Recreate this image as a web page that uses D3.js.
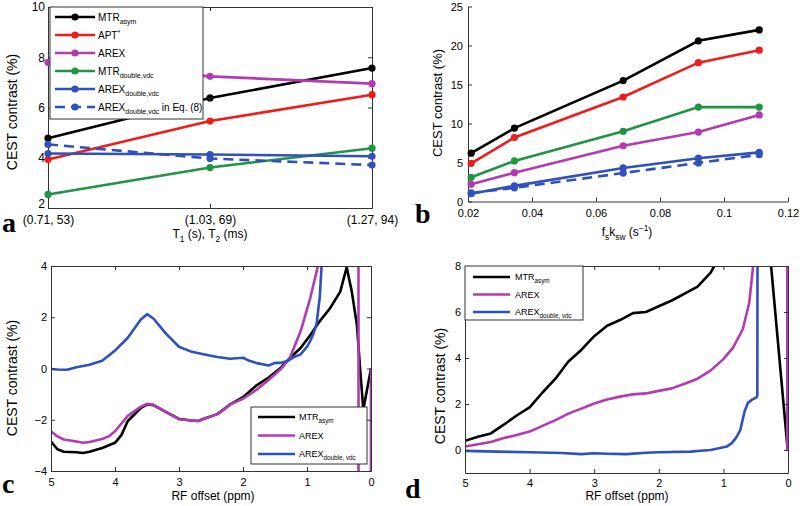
<!DOCTYPE html>
<html>
<head>
<meta charset="utf-8">
<script src="https://cdn.jsdelivr.net/npm/d3@7"></script>
<style>
  body { margin: 0; background: #fff; }
  svg { display: block; }
  text { font-family: "Liberation Sans", Arial, sans-serif; fill: #000; }
</style>
</head>
<body>
<svg id="fig" width="800" height="506"></svg>
<script>
// ---------- panel a : T1/T2 dependence
const aCats = ["(0.71, 53)", "(1.03, 69)", "(1.27, 94)"];
const aMTRasym = [4.78, 6.38, 7.57];
const aAPT = [3.93, 5.46, 6.51];
const aAREX = [7.8, 7.24, 6.95];
const aMTRdbl = [2.54, 3.61, 4.38];
const aAREXdbl = [4.17, 4.13, 4.06];
const aAREXdblEq = [4.53, 3.97, 3.71];
const aYTicks = [2, 4, 6, 8, 10];

// ---------- panel b : fs*ksw dependence
const bX = [0.021, 0.0345, 0.0685, 0.092, 0.111];
const bMTRasym = [6.2, 9.4, 15.5, 20.6, 22.0];
const bAPT = [4.9, 8.2, 13.4, 17.8, 19.4];
const bMTRdbl = [3.1, 5.2, 9.0, 12.1, 12.1];
const bAREX = [2.2, 3.7, 7.15, 8.9, 11.1];
const bAREXdbl = [1.0, 2.0, 4.3, 5.55, 6.3];
const bAREXdblEq = [1.1, 1.75, 3.65, 4.95, 6.0];
const bXTicks = [0.02, 0.04, 0.06, 0.08, 0.1, 0.12];
const bYTicks = [0, 5, 10, 15, 20, 25];

// ---------- panel c : z-spectrum contrast, [offset ppm, %]
const cMTRasym = [[5,-2.85],[4.9,-3.15],[4.8,-3.25],[4.6,-3.27],[4.5,-3.3],[4.4,-3.25],[4.2,-3.1],[4.0,-2.9],
  [3.9,-2.6],[3.8,-2.05],[3.6,-1.55],[3.5,-1.4],[3.4,-1.43],[3.2,-1.7],[3.0,-1.97],[2.8,-2.03],[2.7,-2.05],
  [2.6,-1.95],[2.4,-1.78],[2.2,-1.4],[2.0,-1.12],[1.8,-0.68],[1.6,-0.35],[1.4,0.05],[1.27,0.4],[1.1,0.8],
  [0.95,1.3],[0.8,1.85],[0.64,2.35],[0.48,3.0],[0.38,3.95],[0.3,3.0],[0.22,1.7],[0.17,0.0],[0.12,-1.6],[0.0,0.0]];
const cAREX = [[5,-2.45],[4.9,-2.65],[4.8,-2.77],[4.6,-2.85],[4.5,-2.9],[4.4,-2.87],[4.2,-2.75],[4.1,-2.65],
  [4.0,-2.45],[3.8,-1.85],[3.6,-1.5],[3.5,-1.38],[3.4,-1.42],[3.2,-1.7],[3.0,-1.98],[2.8,-2.03],[2.7,-2.05],
  [2.6,-1.95],[2.4,-1.78],[2.3,-1.6],[2.2,-1.4],[2.0,-1.18],[1.8,-0.85],[1.6,-0.45],[1.4,0.0],[1.27,0.4],
  [1.1,1.45],[0.95,2.74],[0.82,4.1],[0.5,30],[0.2,30],[0.19,-30],[0.01,-30],[0.0,0.0]];
const cAREXdbl = [[5,-0.02],[4.9,-0.04],[4.75,-0.05],[4.6,0.05],[4.4,0.15],[4.2,0.3],[4.0,0.7],[3.8,1.2],
  [3.6,1.9],[3.5,2.12],[3.4,1.95],[3.2,1.35],[3.0,0.85],[2.8,0.65],[2.6,0.55],[2.4,0.45],[2.2,0.38],
  [2.0,0.42],[1.9,0.3],[1.8,0.22],[1.6,0.12],[1.5,0.22],[1.4,0.22],[1.3,0.3],[1.2,0.45],[1.1,0.55],
  [1.0,0.85],[0.95,1.07],[0.9,1.35],[0.85,1.75],[0.8,2.8],[0.77,4.1],[0.74,6]];
const cXTicks = [5, 4, 3, 2, 1, 0];
const cYTicks = [-4, -2, 0, 2, 4];

// ---------- panel d
const dMTRasym = [[5,0.4],[4.8,0.58],[4.6,0.72],[4.4,1.1],[4.2,1.5],[4.0,1.85],[3.8,2.5],[3.6,3.1],
  [3.4,3.85],[3.2,4.35],[3.0,4.95],[2.8,5.4],[2.6,5.65],[2.4,5.95],[2.2,6.0],[2.0,6.25],[1.8,6.5],
  [1.6,6.8],[1.4,7.1],[1.2,7.7],[1.12,8.1],[0.8,12],[0.39,12],[0.005,0.0]];
const dAREX = [[5,0.15],[4.8,0.25],[4.6,0.35],[4.4,0.52],[4.2,0.65],[4.0,0.8],[3.8,1.05],[3.6,1.3],
  [3.4,1.58],[3.2,1.8],[3.0,2.02],[2.8,2.2],[2.6,2.32],[2.4,2.42],[2.2,2.46],[2.0,2.57],[1.8,2.68],
  [1.6,2.88],[1.4,3.1],[1.2,3.45],[1.0,3.95],[0.85,4.45],[0.7,5.25],[0.6,6.4],[0.54,8.0],[0.5,10],
  [0.012,12],[0.01,0.0]];
const dAREXdbl = [[5,-0.04],[4.5,-0.07],[4.0,-0.1],[3.5,-0.13],[3.2,-0.18],[3.0,-0.14],[2.8,-0.16],
  [2.5,-0.18],[2.2,-0.12],[2.0,-0.1],[1.5,-0.07],[1.36,-0.03],[1.2,0.0],[1.05,0.09],[0.95,0.15],
  [0.87,0.3],[0.8,0.55],[0.74,0.85],[0.67,1.7],[0.62,2.05],[0.55,2.2],[0.49,2.28],[0.475,2.35],[0.47,12]];
const dXTicks = [5, 4, 3, 2, 1, 0];
const dYTicks = [0, 2, 4, 6, 8];

const col = {black: "#000000", red: "#f01c1c", mag: "#b23ab2", green: "#1f9442", blue: "#2f50bd"};
const svg = d3.select("#fig");

// text with sub/superscripts: parts = [[text, "sub"|"sup"|null], ...]
function rich(sel, parts, size) {
  let shift = 0;
  parts.forEach(([t, k]) => {
    const want = k === "sub" ? size * 0.35 : k === "sup" ? -size * 0.4 : 0;
    sel.append("tspan")
      .attr("dy", want - shift)
      .attr("font-size", k ? size * 0.7 : size)
      .text(t);
    shift = want;
  });
  return sel;
}

function axes(g, x, y, xt, yt, opt) {
  const [x0, x1] = x.range(), [y0, y1] = y.range();
  const style = s => {
    s.attr("font-family", null).attr("font-size", opt.fs || 11);
    s.selectAll("path, line").attr("stroke", "#333").attr("stroke-width", 1);
  };
  g.append("g").attr("transform", `translate(0,${y0})`)
    .call(d3.axisBottom(x).tickValues(xt).tickSizeInner(-4).tickSizeOuter(0).tickPadding(opt.px || 6)
      .tickFormat(opt.xf || (d => d)))
    .call(style);
  const ya = g.append("g").attr("transform", `translate(${x0},0)`)
    .call(d3.axisLeft(y).tickValues(yt).tickSizeInner(-4).tickSizeOuter(0).tickPadding(opt.py || 4))
    .call(style);
  // lowest y label sits a little above the corner, MATLAB-like
  if (opt.lift) ya.selectAll(".tick text").filter(d => d === yt[0]).attr("y", -opt.lift);
  if (opt.box) {
    g.append("g").attr("transform", `translate(0,${y1})`)
      .call(d3.axisTop(x).tickValues(xt).tickSizeInner(-4).tickSizeOuter(0).tickFormat(""))
      .call(style);
    g.append("g").attr("transform", `translate(${x1},0)`)
      .call(d3.axisRight(y).tickValues(yt).tickSizeInner(-4).tickSizeOuter(0).tickFormat(""))
      .call(style);
  }
}

function clip(id, x, y) {
  const [x0, x1] = x.range(), [y0, y1] = y.range();
  svg.append("clipPath").attr("id", id).append("rect")
    .attr("x", x0).attr("y", y1).attr("width", x1 - x0).attr("height", y0 - y1);
}

function series(g, xs, ys, x, y, c, dash, dots) {
  const pts = xs.map((d, i) => [x(d), y(ys[i])]);
  g.append("path").attr("d", d3.line()(pts)).attr("fill", "none")
    .attr("stroke", c).attr("stroke-width", 2.6).attr("stroke-dasharray", dash || null);
  if (dots) {
    g.selectAll(null).data(pts).join("circle")
      .attr("cx", d => d[0]).attr("cy", d => d[1]).attr("r", 3.6).attr("fill", c);
  }
}

function curve(g, data, x, y, c, id) {
  g.append("path").attr("d", d3.line().x(d => x(d[0])).y(d => y(d[1]))(data))
    .attr("fill", "none").attr("stroke", c).attr("stroke-width", 2.6)
    .attr("stroke-linejoin", "round").attr("clip-path", `url(#${id})`);
}

function legend(g, box, rows, opt) {
  g.append("rect").attr("x", box[0]).attr("y", box[1]).attr("width", box[2]).attr("height", box[3])
    .attr("fill", "#fff").attr("stroke", "#333").attr("stroke-width", 1);
  rows.forEach((r, i) => {
    const yy = opt.y0 + i * opt.dy;
    g.append("line").attr("x1", opt.l0).attr("x2", opt.l1).attr("y1", yy).attr("y2", yy)
      .attr("stroke", r.c).attr("stroke-width", 2.6).attr("stroke-dasharray", r.dash || null);
    if (opt.dot) g.append("circle").attr("cx", (opt.l0 + opt.l1) / 2).attr("cy", yy).attr("r", 3.6).attr("fill", r.c);
    rich(g.append("text").attr("x", opt.tx).attr("y", yy + opt.fs * 0.36), r.t, opt.fs);
  });
}

function ytitle(x, y, fs) {
  svg.append("text").attr("transform", `translate(${x},${y}) rotate(-90)`)
    .attr("text-anchor", "middle").attr("font-size", fs).text("CEST contrast (%)");
}

function letter(t, x, y) {
  svg.append("text").attr("x", x).attr("y", y).attr("font-size", 28).attr("font-weight", "bold")
    .style("font-family", "'Liberation Serif', 'Times New Roman', serif").text(t);
}

// ===== panel a
{
  const x = d3.scalePoint().domain(aCats).range([48, 372]);
  const y = d3.scaleLinear().domain([2, 10]).range([208, 7]);
  const g = svg.append("g");
  axes(g, x, y, aCats, aYTicks, {box: true, fs: 12, px: 7, py: 3, lift: 4});
  const s = [[aMTRasym, col.black], [aAPT, col.red], [aAREX, col.mag], [aMTRdbl, col.green],
             [aAREXdbl, col.blue], [aAREXdblEq, col.blue, "10,6"]];
  s.forEach(([v, c, dash]) => series(g, aCats, v, x, y, c, dash, true));
  legend(g, [50, 7, 153, 112], [
    {c: col.black, t: [["MTR"], ["asym", "sub"]]},
    {c: col.red, t: [["APT"], ["*", "sup"]]},
    {c: col.mag, t: [["AREX"]]},
    {c: col.green, t: [["MTR"], ["double,vdc", "sub"]]},
    {c: col.blue, t: [["AREX"], ["double,vdc", "sub"]]},
    {c: col.blue, dash: "10,6", t: [["AREX"], ["double,vdc", "sub"], [" in Eq. (8)"]]}
  ], {y0: 17, dy: 18, l0: 55, l1: 95, tx: 98, fs: 10, dot: true});
  ytitle(17, 112, 14);
  rich(svg.append("text").attr("x", 210).attr("y", 238).attr("text-anchor", "middle"),
    [["T"], ["1", "sub"], [" (s), T"], ["2", "sub"], [" (ms)"]], 12);
  letter("a", 2, 232);
}

// ===== panel b
{
  const x = d3.scaleLinear().domain([0.02, 0.12]).range([468, 788]);
  const y = d3.scaleLinear().domain([0, 25]).range([201.5, 6.5]);
  const g = svg.append("g");
  axes(g, x, y, bXTicks, bYTicks, {px: 8, py: 5, xf: d3.format("~g")});
  const s = [[bMTRasym, col.black], [bAPT, col.red], [bMTRdbl, col.green], [bAREX, col.mag],
             [bAREXdbl, col.blue], [bAREXdblEq, col.blue, "10,6"]];
  s.forEach(([v, c, dash]) => series(g, bX, v, x, y, c, dash, true));
  ytitle(442, 103, 13);
  rich(svg.append("text").attr("x", 627).attr("y", 236).attr("text-anchor", "middle"),
    [["f"], ["s", "sub"], ["k"], ["sw", "sub"], [" (s"], ["\u22121", "sup"], [")"]], 12);
  letter("b", 415, 223);
}

// ===== panel c
{
  const x = d3.scaleLinear().domain([5, 0]).range([51, 371]);
  const y = d3.scaleLinear().domain([-4, 4]).range([471, 266]);
  const g = svg.append("g");
  clip("clipc", x, y);
  curve(g, cMTRasym, x, y, col.black, "clipc");
  curve(g, cAREX, x, y, col.mag, "clipc");
  curve(g, cAREXdbl, x, y, col.blue, "clipc");
  axes(g, x, y, cXTicks, cYTicks, {box: true, px: 7, py: 4});
  legend(g, [251, 407, 116, 57], [
    {c: col.black, t: [["MTR"], ["asym", "sub"]]},
    {c: col.mag, t: [["AREX"]]},
    {c: col.blue, t: [["AREX"], ["double, vdc", "sub"]]}
  ], {y0: 417, dy: 18.5, l0: 258, l1: 295, tx: 299, fs: 9});
  ytitle(17, 378, 14);
  svg.append("text").attr("x", 213).attr("y", 500).attr("text-anchor", "middle")
    .attr("font-size", 12).text("RF offset (ppm)");
  letter("c", 2, 493);
}

// ===== panel d
{
  const x = d3.scaleLinear().domain([5, 0]).range([465, 788]);
  const y = d3.scaleLinear().domain([-1, 8]).range([473, 266]);
  const g = svg.append("g");
  clip("clipd", x, y);
  curve(g, dMTRasym, x, y, col.black, "clipd");
  curve(g, dAREX, x, y, col.mag, "clipd");
  curve(g, dAREXdbl, x, y, col.blue, "clipd");
  axes(g, x, y, dXTicks, dYTicks, {box: true, px: 6, py: 4});
  legend(g, [465, 266, 118, 54], [
    {c: col.black, t: [["MTR"], ["asym", "sub"]]},
    {c: col.mag, t: [["AREX"]]},
    {c: col.blue, t: [["AREX"], ["double, vdc", "sub"]]}
  ], {y0: 277, dy: 17.5, l0: 473, l1: 510, tx: 515, fs: 9});
  ytitle(445, 386, 14);
  svg.append("text").attr("x", 627).attr("y", 500).attr("text-anchor", "middle")
    .attr("font-size", 12).text("RF offset (ppm)");
  letter("d", 405, 498);
}
</script>
</body>
</html>
